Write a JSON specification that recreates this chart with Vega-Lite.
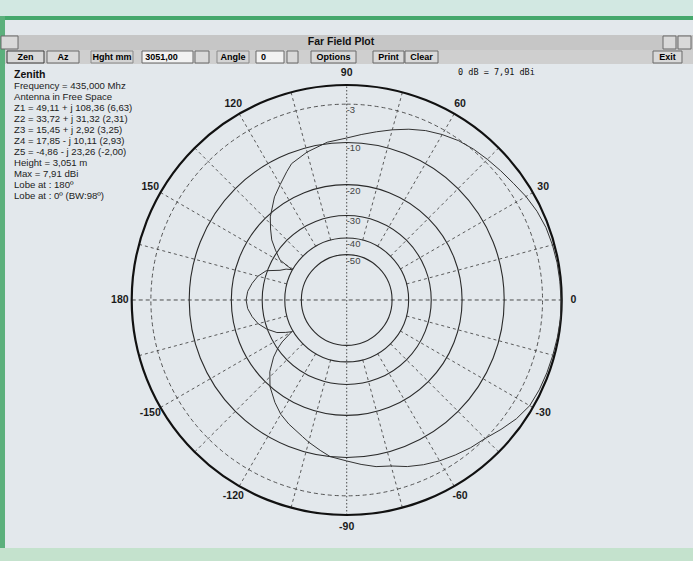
{
  "$schema": "https://vega.github.io/schema/vega-lite/v6.json",
  "width": 693,
  "height": 561,
  "padding": 0,
  "autosize": {"type": "none"},
  "background": "#e3e8ec",
  "config": {
    "view": {"stroke": null},
    "style": {
      "tb": {"font": "Liberation Sans", "fontSize": 9, "fontWeight": "bold", "fill": "#111", "align": "center", "baseline": "middle"}
    }
  },
  "datasets": {
    "pattern": [
      {"az": -180, "db": -24.4}, {"az": -175, "db": -24.8}, {"az": -170, "db": -25.9}, {"az": -165, "db": -27.4},
      {"az": -160, "db": -29.8}, {"az": -155, "db": -33.0}, {"az": -152, "db": -36.5}, {"az": -150, "db": -39.2},
      {"az": -147, "db": -33.0}, {"az": -145, "db": -30.2}, {"az": -142, "db": -27.0}, {"az": -137, "db": -23.0},
      {"az": -131.5, "db": -19.9}, {"az": -125, "db": -17.4}, {"az": -120, "db": -15.7}, {"az": -115, "db": -14.5},
      {"az": -108, "db": -13.0}, {"az": -105, "db": -12.2}, {"az": -100, "db": -11.0}, {"az": -96, "db": -10.0},
      {"az": -90, "db": -9.3}, {"az": -85, "db": -8.5}, {"az": -80, "db": -7.7}, {"az": -75, "db": -7.2},
      {"az": -70, "db": -6.2}, {"az": -65, "db": -5.4}, {"az": -60, "db": -4.7}, {"az": -55, "db": -4.1},
      {"az": -50, "db": -3.5}, {"az": -45, "db": -3.0}, {"az": -40, "db": -2.1}, {"az": -35, "db": -1.2},
      {"az": -30, "db": -0.55}, {"az": -25, "db": -0.38}, {"az": -20, "db": -0.3}, {"az": -15, "db": -0.24},
      {"az": -10, "db": -0.15}, {"az": -5, "db": -0.05}, {"az": 0, "db": -0.1}, {"az": 5, "db": -0.15},
      {"az": 10, "db": -0.2}, {"az": 15, "db": -0.3}, {"az": 20, "db": -0.45}, {"az": 25, "db": -0.76},
      {"az": 30, "db": -1.22}, {"az": 35, "db": -1.77}, {"az": 40, "db": -2.16}, {"az": 45, "db": -2.5},
      {"az": 50, "db": -2.8}, {"az": 55, "db": -3.2}, {"az": 60, "db": -3.8}, {"az": 65, "db": -4.5},
      {"az": 70, "db": -5.4}, {"az": 75, "db": -6.4}, {"az": 80, "db": -7.4}, {"az": 85, "db": -8.3},
      {"az": 90, "db": -9.1}, {"az": 97, "db": -9.7}, {"az": 105, "db": -10.9}, {"az": 112, "db": -12.2},
      {"az": 115, "db": -13.4}, {"az": 120, "db": -15.4}, {"az": 125, "db": -17.2}, {"az": 132.6, "db": -20.7},
      {"az": 137, "db": -23.3}, {"az": 141.3, "db": -25.9}, {"az": 145, "db": -29.1}, {"az": 149, "db": -32.6},
      {"az": 151, "db": -39.7}, {"az": 153, "db": -37.0}, {"az": 156, "db": -34.7}, {"az": 160, "db": -29.6},
      {"az": 165, "db": -27.3}, {"az": 170, "db": -25.9}, {"az": 175, "db": -24.8}, {"az": 180, "db": -24.4}
    ],
    "rings": [
      {"db": 0}, {"db": -3}, {"db": -10}, {"db": -20}, {"db": -30}, {"db": -40}, {"db": -50}
    ],
    "spokes": [
      {"az": 15}, {"az": 30}, {"az": 45}, {"az": 60}, {"az": 75}, {"az": 105}, {"az": 120}, {"az": 135},
      {"az": 150}, {"az": 165}, {"az": 195}, {"az": 210}, {"az": 225}, {"az": 240}, {"az": 255}, {"az": 285},
      {"az": 300}, {"az": 315}, {"az": 330}, {"az": 345}
    ],
    "axes": [{"az": 0}, {"az": 90}],
    "angles": [
      {"az": 0}, {"az": 30}, {"az": 60}, {"az": 90}, {"az": 120}, {"az": 150}, {"az": 180},
      {"az": -150}, {"az": -120}, {"az": -90}, {"az": -60}, {"az": -30}
    ],
    "info": [
      {
        "window": "Far Field Plot",
        "mode": "Zenith",
        "body": "Frequency = 435,000 Mhz\nAntenna in Free Space\nZ1 = 49,11 + j 108,36 (6,63)\nZ2 = 33,72 + j 31,32 (2,31)\nZ3 = 15,45 + j 2,92 (3,25)\nZ4 = 17,85 - j 10,11 (2,93)\nZ5 = -4,86 - j 23,26 (-2,00)\nHeight = 3,051 m\nMax = 7,91 dBi\nLobe at : 180º\nLobe at : 0º (BW:98º)",
        "ref": "0 dB = 7,91 dBi"
      }
    ]
  },
  "layer": [
    {
      "data": {"values": [{}]},
      "mark": {"type": "rect", "color": "#d2e8e2"},
      "encoding": {
        "x": {"datum": -1.6126, "type": "quantitative", "scale": {"domain": [-1.6126, 1.6107], "nice": false, "zero": false}, "axis": null},
        "x2": {"datum": 1.6107},
        "y": {"datum": 1.3953, "type": "quantitative", "scale": {"domain": [-1.214, 1.3953], "nice": false, "zero": false}, "axis": null},
        "y2": {"datum": 1.3209}
      }
    },
    {
      "data": {"values": [{}]},
      "mark": {"type": "rect", "color": "#45a86c"},
      "encoding": {
        "x": {"datum": -1.6126, "type": "quantitative", "scale": {"domain": [-1.6126, 1.6107], "nice": false, "zero": false}, "axis": null},
        "x2": {"datum": 1.6107},
        "y": {"datum": 1.3209, "type": "quantitative", "scale": {"domain": [-1.214, 1.3953], "nice": false, "zero": false}, "axis": null},
        "y2": {"datum": 1.3023}
      }
    },
    {
      "data": {"values": [{}]},
      "mark": {"type": "rect", "color": "#c6c6c6"},
      "encoding": {
        "x": {"datum": -1.6126, "type": "quantitative", "scale": {"domain": [-1.6126, 1.6107], "nice": false, "zero": false}, "axis": null},
        "x2": {"datum": 1.6107},
        "y": {"datum": 1.2326, "type": "quantitative", "scale": {"domain": [-1.214, 1.3953], "nice": false, "zero": false}, "axis": null},
        "y2": {"datum": 1.1628}
      }
    },
    {
      "data": {"values": [{}]},
      "mark": {"type": "rect", "color": "#cfcfcf"},
      "encoding": {
        "x": {"datum": -1.6126, "type": "quantitative", "scale": {"domain": [-1.6126, 1.6107], "nice": false, "zero": false}, "axis": null},
        "x2": {"datum": 1.6107},
        "y": {"datum": 1.1628, "type": "quantitative", "scale": {"domain": [-1.214, 1.3953], "nice": false, "zero": false}, "axis": null},
        "y2": {"datum": 1.0977}
      }
    },
    {
      "data": {"values": [{}]},
      "mark": {"type": "rect", "color": "#5cb07c"},
      "encoding": {
        "x": {"datum": -1.6126, "type": "quantitative", "scale": {"domain": [-1.6126, 1.6107], "nice": false, "zero": false}, "axis": null},
        "x2": {"datum": -1.5893},
        "y": {"datum": 1.3209, "type": "quantitative", "scale": {"domain": [-1.214, 1.3953], "nice": false, "zero": false}, "axis": null},
        "y2": {"datum": -1.214}
      }
    },
    {
      "data": {"values": [{}]},
      "mark": {"type": "rect", "color": "#c4e2cd"},
      "encoding": {
        "x": {"datum": -1.6126, "type": "quantitative", "scale": {"domain": [-1.6126, 1.6107], "nice": false, "zero": false}, "axis": null},
        "x2": {"datum": 1.6107},
        "y": {"datum": -1.1535, "type": "quantitative", "scale": {"domain": [-1.214, 1.3953], "nice": false, "zero": false}, "axis": null},
        "y2": {"datum": -1.214}
      }
    },
    {
      "data": {"values": [{}]},
      "layer": [
        {
          "mark": {"type": "rect", "fill": "#d9d9d9", "stroke": "#3c3c3c", "strokeWidth": 1},
          "encoding": {
            "x": {"datum": -1.58, "type": "quantitative", "scale": {"domain": [-1.6126, 1.6107], "nice": false, "zero": false}, "axis": null},
            "x2": {"datum": -1.4079},
            "y": {"datum": 1.1581, "type": "quantitative", "scale": {"domain": [-1.214, 1.3953], "nice": false, "zero": false}, "axis": null},
            "y2": {"datum": 1.1023}
          }
        },
        {
          "mark": {"type": "rect", "fill": "#d9d9d9", "stroke": "#6a6a6a", "strokeWidth": 1},
          "encoding": {
            "x": {"datum": -1.394, "type": "quantitative", "scale": {"domain": [-1.6126, 1.6107], "nice": false, "zero": false}, "axis": null},
            "x2": {"datum": -1.2451},
            "y": {"datum": 1.1581, "type": "quantitative", "scale": {"domain": [-1.214, 1.3953], "nice": false, "zero": false}, "axis": null},
            "y2": {"datum": 1.1023}
          }
        },
        {
          "mark": {"type": "rect", "fill": "#d4d4d4", "stroke": "#8a8a8a", "strokeWidth": 1},
          "encoding": {
            "x": {"datum": -1.1893, "type": "quantitative", "scale": {"domain": [-1.6126, 1.6107], "nice": false, "zero": false}, "axis": null},
            "x2": {"datum": -0.994},
            "y": {"datum": 1.1581, "type": "quantitative", "scale": {"domain": [-1.214, 1.3953], "nice": false, "zero": false}, "axis": null},
            "y2": {"datum": 1.1023}
          }
        },
        {
          "mark": {"type": "rect", "fill": "#f2f2f2", "stroke": "#6a6a6a", "strokeWidth": 1},
          "encoding": {
            "x": {"datum": -0.9521, "type": "quantitative", "scale": {"domain": [-1.6126, 1.6107], "nice": false, "zero": false}, "axis": null},
            "x2": {"datum": -0.7149},
            "y": {"datum": 1.1581, "type": "quantitative", "scale": {"domain": [-1.214, 1.3953], "nice": false, "zero": false}, "axis": null},
            "y2": {"datum": 1.1023}
          }
        },
        {
          "mark": {"type": "rect", "fill": "#d9d9d9", "stroke": "#6a6a6a", "strokeWidth": 1},
          "encoding": {
            "x": {"datum": -0.7056, "type": "quantitative", "scale": {"domain": [-1.6126, 1.6107], "nice": false, "zero": false}, "axis": null},
            "x2": {"datum": -0.6405},
            "y": {"datum": 1.1581, "type": "quantitative", "scale": {"domain": [-1.214, 1.3953], "nice": false, "zero": false}, "axis": null},
            "y2": {"datum": 1.1023}
          }
        },
        {
          "mark": {"type": "rect", "fill": "#d4d4d4", "stroke": "#8a8a8a", "strokeWidth": 1},
          "encoding": {
            "x": {"datum": -0.6033, "type": "quantitative", "scale": {"domain": [-1.6126, 1.6107], "nice": false, "zero": false}, "axis": null},
            "x2": {"datum": -0.4544},
            "y": {"datum": 1.1581, "type": "quantitative", "scale": {"domain": [-1.214, 1.3953], "nice": false, "zero": false}, "axis": null},
            "y2": {"datum": 1.1023}
          }
        },
        {
          "mark": {"type": "rect", "fill": "#f2f2f2", "stroke": "#6a6a6a", "strokeWidth": 1},
          "encoding": {
            "x": {"datum": -0.4219, "type": "quantitative", "scale": {"domain": [-1.6126, 1.6107], "nice": false, "zero": false}, "axis": null},
            "x2": {"datum": -0.2916},
            "y": {"datum": 1.1581, "type": "quantitative", "scale": {"domain": [-1.214, 1.3953], "nice": false, "zero": false}, "axis": null},
            "y2": {"datum": 1.1023}
          }
        },
        {
          "mark": {"type": "rect", "fill": "#d9d9d9", "stroke": "#6a6a6a", "strokeWidth": 1},
          "encoding": {
            "x": {"datum": -0.2777, "type": "quantitative", "scale": {"domain": [-1.6126, 1.6107], "nice": false, "zero": false}, "axis": null},
            "x2": {"datum": -0.2265},
            "y": {"datum": 1.1581, "type": "quantitative", "scale": {"domain": [-1.214, 1.3953], "nice": false, "zero": false}, "axis": null},
            "y2": {"datum": 1.1023}
          }
        },
        {
          "mark": {"type": "rect", "fill": "#d9d9d9", "stroke": "#6a6a6a", "strokeWidth": 1},
          "encoding": {
            "x": {"datum": -0.166, "type": "quantitative", "scale": {"domain": [-1.6126, 1.6107], "nice": false, "zero": false}, "axis": null},
            "x2": {"datum": 0.0433},
            "y": {"datum": 1.1581, "type": "quantitative", "scale": {"domain": [-1.214, 1.3953], "nice": false, "zero": false}, "axis": null},
            "y2": {"datum": 1.1023}
          }
        },
        {
          "mark": {"type": "rect", "fill": "#d9d9d9", "stroke": "#6a6a6a", "strokeWidth": 1},
          "encoding": {
            "x": {"datum": 0.1223, "type": "quantitative", "scale": {"domain": [-1.6126, 1.6107], "nice": false, "zero": false}, "axis": null},
            "x2": {"datum": 0.2665},
            "y": {"datum": 1.1581, "type": "quantitative", "scale": {"domain": [-1.214, 1.3953], "nice": false, "zero": false}, "axis": null},
            "y2": {"datum": 1.1023}
          }
        },
        {
          "mark": {"type": "rect", "fill": "#d9d9d9", "stroke": "#6a6a6a", "strokeWidth": 1},
          "encoding": {
            "x": {"datum": 0.2712, "type": "quantitative", "scale": {"domain": [-1.6126, 1.6107], "nice": false, "zero": false}, "axis": null},
            "x2": {"datum": 0.4247},
            "y": {"datum": 1.1581, "type": "quantitative", "scale": {"domain": [-1.214, 1.3953], "nice": false, "zero": false}, "axis": null},
            "y2": {"datum": 1.1023}
          }
        },
        {
          "mark": {"type": "rect", "fill": "#d9d9d9", "stroke": "#6a6a6a", "strokeWidth": 1},
          "encoding": {
            "x": {"datum": 1.4247, "type": "quantitative", "scale": {"domain": [-1.6126, 1.6107], "nice": false, "zero": false}, "axis": null},
            "x2": {"datum": 1.5595},
            "y": {"datum": 1.1581, "type": "quantitative", "scale": {"domain": [-1.214, 1.3953], "nice": false, "zero": false}, "axis": null},
            "y2": {"datum": 1.1023}
          }
        },
        {
          "mark": {"type": "rect", "fill": "#d9d9d9", "stroke": "#6a6a6a", "strokeWidth": 1},
          "encoding": {
            "x": {"datum": -1.6079, "type": "quantitative", "scale": {"domain": [-1.6126, 1.6107], "nice": false, "zero": false}, "axis": null},
            "x2": {"datum": -1.5288},
            "y": {"datum": 1.2279, "type": "quantitative", "scale": {"domain": [-1.214, 1.3953], "nice": false, "zero": false}, "axis": null},
            "y2": {"datum": 1.1674}
          }
        },
        {
          "mark": {"type": "rect", "fill": "#d9d9d9", "stroke": "#6a6a6a", "strokeWidth": 1},
          "encoding": {
            "x": {"datum": 1.4712, "type": "quantitative", "scale": {"domain": [-1.6126, 1.6107], "nice": false, "zero": false}, "axis": null},
            "x2": {"datum": 1.5316},
            "y": {"datum": 1.2279, "type": "quantitative", "scale": {"domain": [-1.214, 1.3953], "nice": false, "zero": false}, "axis": null},
            "y2": {"datum": 1.1674}
          }
        },
        {
          "mark": {"type": "rect", "fill": "#d9d9d9", "stroke": "#6a6a6a", "strokeWidth": 1},
          "encoding": {
            "x": {"datum": 1.5409, "type": "quantitative", "scale": {"domain": [-1.6126, 1.6107], "nice": false, "zero": false}, "axis": null},
            "x2": {"datum": 1.6014},
            "y": {"datum": 1.2279, "type": "quantitative", "scale": {"domain": [-1.214, 1.3953], "nice": false, "zero": false}, "axis": null},
            "y2": {"datum": 1.1674}
          }
        },
        {"mark": {"type": "text", "style": "tb"}, "encoding": {
          "x": {"datum": -1.494, "type": "quantitative", "scale": {"domain": [-1.6126, 1.6107], "nice": false, "zero": false}, "axis": null},
          "y": {"datum": 1.1302, "type": "quantitative", "scale": {"domain": [-1.214, 1.3953], "nice": false, "zero": false}, "axis": null},
          "text": {"value": "Zen"}}},
        {"mark": {"type": "text", "style": "tb"}, "encoding": {
          "x": {"datum": -1.3195, "type": "quantitative", "scale": {"domain": [-1.6126, 1.6107], "nice": false, "zero": false}, "axis": null},
          "y": {"datum": 1.1302, "type": "quantitative", "scale": {"domain": [-1.214, 1.3953], "nice": false, "zero": false}, "axis": null},
          "text": {"value": "Az"}}},
        {"mark": {"type": "text", "style": "tb"}, "encoding": {
          "x": {"datum": -1.0916, "type": "quantitative", "scale": {"domain": [-1.6126, 1.6107], "nice": false, "zero": false}, "axis": null},
          "y": {"datum": 1.1302, "type": "quantitative", "scale": {"domain": [-1.214, 1.3953], "nice": false, "zero": false}, "axis": null},
          "text": {"value": "Hght mm"}}},
        {"mark": {"type": "text", "style": "tb"}, "encoding": {
          "x": {"datum": -0.8614, "type": "quantitative", "scale": {"domain": [-1.6126, 1.6107], "nice": false, "zero": false}, "axis": null},
          "y": {"datum": 1.1302, "type": "quantitative", "scale": {"domain": [-1.214, 1.3953], "nice": false, "zero": false}, "axis": null},
          "text": {"value": "3051,00"}}},
        {"mark": {"type": "text", "style": "tb"}, "encoding": {
          "x": {"datum": -0.5288, "type": "quantitative", "scale": {"domain": [-1.6126, 1.6107], "nice": false, "zero": false}, "axis": null},
          "y": {"datum": 1.1302, "type": "quantitative", "scale": {"domain": [-1.214, 1.3953], "nice": false, "zero": false}, "axis": null},
          "text": {"value": "Angle"}}},
        {"mark": {"type": "text", "style": "tb"}, "encoding": {
          "x": {"datum": -0.3865, "type": "quantitative", "scale": {"domain": [-1.6126, 1.6107], "nice": false, "zero": false}, "axis": null},
          "y": {"datum": 1.1302, "type": "quantitative", "scale": {"domain": [-1.214, 1.3953], "nice": false, "zero": false}, "axis": null},
          "text": {"value": "0"}}},
        {"mark": {"type": "text", "style": "tb"}, "encoding": {
          "x": {"datum": -0.0614, "type": "quantitative", "scale": {"domain": [-1.6126, 1.6107], "nice": false, "zero": false}, "axis": null},
          "y": {"datum": 1.1302, "type": "quantitative", "scale": {"domain": [-1.214, 1.3953], "nice": false, "zero": false}, "axis": null},
          "text": {"value": "Options"}}},
        {"mark": {"type": "text", "style": "tb"}, "encoding": {
          "x": {"datum": 0.1944, "type": "quantitative", "scale": {"domain": [-1.6126, 1.6107], "nice": false, "zero": false}, "axis": null},
          "y": {"datum": 1.1302, "type": "quantitative", "scale": {"domain": [-1.214, 1.3953], "nice": false, "zero": false}, "axis": null},
          "text": {"value": "Print"}}},
        {"mark": {"type": "text", "style": "tb"}, "encoding": {
          "x": {"datum": 0.3479, "type": "quantitative", "scale": {"domain": [-1.6126, 1.6107], "nice": false, "zero": false}, "axis": null},
          "y": {"datum": 1.1302, "type": "quantitative", "scale": {"domain": [-1.214, 1.3953], "nice": false, "zero": false}, "axis": null},
          "text": {"value": "Clear"}}},
        {"mark": {"type": "text", "style": "tb"}, "encoding": {
          "x": {"datum": 1.4921, "type": "quantitative", "scale": {"domain": [-1.6126, 1.6107], "nice": false, "zero": false}, "axis": null},
          "y": {"datum": 1.1302, "type": "quantitative", "scale": {"domain": [-1.214, 1.3953], "nice": false, "zero": false}, "axis": null},
          "text": {"value": "Exit"}}}
      ]
    },
    {
      "data": {"name": "info"},
      "mark": {"type": "text", "font": "Liberation Sans", "fontSize": 10.5, "fontWeight": "bold", "color": "#111", "align": "center", "baseline": "middle"},
      "encoding": {
        "x": {"datum": -0.0265, "type": "quantitative", "scale": {"domain": [-1.6126, 1.6107], "nice": false, "zero": false}, "axis": null},
        "y": {"datum": 1.2, "type": "quantitative", "scale": {"domain": [-1.214, 1.3953], "nice": false, "zero": false}, "axis": null},
        "text": {"field": "window"}
      }
    },
    {
      "data": {"name": "spokes"},
      "transform": [
        {"calculate": "pow(10, -40/74)", "as": "r0"},
        {"calculate": "datum.r0*cos(datum.az*PI/180)", "as": "x0"},
        {"calculate": "datum.r0*sin(datum.az*PI/180)", "as": "y0"},
        {"calculate": "cos(datum.az*PI/180)", "as": "x1"},
        {"calculate": "sin(datum.az*PI/180)", "as": "y1"}
      ],
      "mark": {"type": "rule", "color": "#4a4a4a", "strokeWidth": 0.9, "strokeDash": [3, 3]},
      "encoding": {
        "x": {"field": "x0", "type": "quantitative", "scale": {"domain": [-1.6126, 1.6107], "nice": false, "zero": false}, "axis": null},
        "y": {"field": "y0", "type": "quantitative", "scale": {"domain": [-1.214, 1.3953], "nice": false, "zero": false}, "axis": null},
        "x2": {"field": "x1"},
        "y2": {"field": "y1"}
      }
    },
    {
      "data": {"name": "axes"},
      "transform": [
        {"filter": "datum.az == 0"},
        {"calculate": "-cos(datum.az*PI/180)", "as": "x0"},
        {"calculate": "-sin(datum.az*PI/180)", "as": "y0"},
        {"calculate": "cos(datum.az*PI/180)", "as": "x1"},
        {"calculate": "sin(datum.az*PI/180)", "as": "y1"}
      ],
      "mark": {"type": "rule", "color": "#3a3a3a", "strokeWidth": 0.9, "strokeDash": [4, 3]},
      "encoding": {
        "x": {"field": "x0", "type": "quantitative", "scale": {"domain": [-1.6126, 1.6107], "nice": false, "zero": false}, "axis": null},
        "y": {"field": "y0", "type": "quantitative", "scale": {"domain": [-1.214, 1.3953], "nice": false, "zero": false}, "axis": null},
        "x2": {"field": "x1"},
        "y2": {"field": "y1"}
      }
    },
    {
      "data": {"name": "axes"},
      "transform": [
        {"filter": "datum.az == 90"},
        {"calculate": "-cos(datum.az*PI/180)", "as": "x0"},
        {"calculate": "-sin(datum.az*PI/180)", "as": "y0"},
        {"calculate": "cos(datum.az*PI/180)", "as": "x1"},
        {"calculate": "sin(datum.az*PI/180)", "as": "y1"}
      ],
      "mark": {"type": "rule", "color": "#3a3a3a", "strokeWidth": 0.9, "strokeDash": [1.5, 2]},
      "encoding": {
        "x": {"field": "x0", "type": "quantitative", "scale": {"domain": [-1.6126, 1.6107], "nice": false, "zero": false}, "axis": null},
        "y": {"field": "y0", "type": "quantitative", "scale": {"domain": [-1.214, 1.3953], "nice": false, "zero": false}, "axis": null},
        "x2": {"field": "x1"},
        "y2": {"field": "y1"}
      }
    },
    {
      "data": {"name": "rings"},
      "transform": [{"filter": "datum.db <= -10"}, {"calculate": "pow(10, datum.db/74)", "as": "rr"}],
      "mark": {"type": "arc", "filled": false, "stroke": "#2a2a2a", "strokeWidth": 1.1, "theta": 0, "theta2": 6.2832},
      "encoding": {
        "x": {"datum": 0, "type": "quantitative", "scale": {"domain": [-1.6126, 1.6107], "nice": false, "zero": false}, "axis": null},
        "y": {"datum": 0, "type": "quantitative", "scale": {"domain": [-1.214, 1.3953], "nice": false, "zero": false}, "axis": null},
        "radius": {"field": "rr", "type": "quantitative", "stack": null, "scale": {"type": "linear", "domain": [0, 1], "range": [0, 215], "zero": true}}
      }
    },
    {
      "data": {"name": "rings"},
      "transform": [{"filter": "datum.db == -3"}, {"calculate": "pow(10, datum.db/74)", "as": "rr"}],
      "mark": {"type": "arc", "filled": false, "stroke": "#444", "strokeWidth": 0.9, "strokeDash": [4, 3], "theta": 0, "theta2": 6.2832},
      "encoding": {
        "x": {"datum": 0, "type": "quantitative", "scale": {"domain": [-1.6126, 1.6107], "nice": false, "zero": false}, "axis": null},
        "y": {"datum": 0, "type": "quantitative", "scale": {"domain": [-1.214, 1.3953], "nice": false, "zero": false}, "axis": null},
        "radius": {"field": "rr", "type": "quantitative", "stack": null, "scale": {"type": "linear", "domain": [0, 1], "range": [0, 215], "zero": true}}
      }
    },
    {
      "data": {"name": "rings"},
      "transform": [{"filter": "datum.db == 0"}, {"calculate": "pow(10, datum.db/74)", "as": "rr"}],
      "mark": {"type": "arc", "filled": false, "stroke": "#111", "strokeWidth": 2.2, "theta": 0, "theta2": 6.2832},
      "encoding": {
        "x": {"datum": 0, "type": "quantitative", "scale": {"domain": [-1.6126, 1.6107], "nice": false, "zero": false}, "axis": null},
        "y": {"datum": 0, "type": "quantitative", "scale": {"domain": [-1.214, 1.3953], "nice": false, "zero": false}, "axis": null},
        "radius": {"field": "rr", "type": "quantitative", "stack": null, "scale": {"type": "linear", "domain": [0, 1], "range": [0, 215], "zero": true}}
      }
    },
    {
      "data": {"name": "pattern"},
      "transform": [
        {"calculate": "pow(10, datum.db/74)", "as": "rr"},
        {"calculate": "datum.rr*cos(datum.az*PI/180)", "as": "px"},
        {"calculate": "datum.rr*sin(datum.az*PI/180)", "as": "py"}
      ],
      "mark": {"type": "line", "color": "#333", "strokeWidth": 1, "interpolate": "linear"},
      "encoding": {
        "x": {"field": "px", "type": "quantitative", "scale": {"domain": [-1.6126, 1.6107], "nice": false, "zero": false}, "axis": null},
        "y": {"field": "py", "type": "quantitative", "scale": {"domain": [-1.214, 1.3953], "nice": false, "zero": false}, "axis": null},
        "order": {"field": "az", "type": "quantitative"}
      }
    },
    {
      "data": {"name": "rings"},
      "transform": [
        {"filter": "datum.db < 0"},
        {"calculate": "pow(10, datum.db/74)", "as": "rr"},
        {"calculate": "toString(datum.db)", "as": "label"}
      ],
      "mark": {"type": "text", "font": "Liberation Sans", "fontSize": 9.5, "color": "#444", "align": "left", "baseline": "top", "dy": 1},
      "encoding": {
        "x": {"datum": 0, "type": "quantitative", "scale": {"domain": [-1.6126, 1.6107], "nice": false, "zero": false}, "axis": null},
        "y": {"field": "rr", "type": "quantitative", "scale": {"domain": [-1.214, 1.3953], "nice": false, "zero": false}, "axis": null},
        "text": {"field": "label"}
      }
    },
    {
      "data": {"name": "angles"},
      "transform": [
        {"calculate": "1.055*cos(datum.az*PI/180)", "as": "px"},
        {"calculate": "1.055*sin(datum.az*PI/180)", "as": "py"},
        {"calculate": "toString(datum.az)", "as": "label"}
      ],
      "mark": {"type": "text", "font": "Liberation Sans", "fontSize": 10.5, "fontWeight": "bold", "color": "#1a1a1a", "align": "center", "baseline": "middle"},
      "encoding": {
        "x": {"field": "px", "type": "quantitative", "scale": {"domain": [-1.6126, 1.6107], "nice": false, "zero": false}, "axis": null},
        "y": {"field": "py", "type": "quantitative", "scale": {"domain": [-1.214, 1.3953], "nice": false, "zero": false}, "axis": null},
        "text": {"field": "label"}
      }
    },
    {
      "data": {"name": "info"},
      "mark": {"type": "text", "font": "Liberation Sans", "fontSize": 10.5, "fontWeight": "bold", "color": "#111", "align": "left", "baseline": "middle"},
      "encoding": {
        "x": {"datum": -1.5474, "type": "quantitative", "scale": {"domain": [-1.6126, 1.6107], "nice": false, "zero": false}, "axis": null},
        "y": {"datum": 1.0465, "type": "quantitative", "scale": {"domain": [-1.214, 1.3953], "nice": false, "zero": false}, "axis": null},
        "text": {"field": "mode"}
      }
    },
    {
      "data": {"name": "info"},
      "mark": {"type": "text", "font": "Liberation Sans", "fontSize": 9.6, "color": "#222", "align": "left", "baseline": "top", "lineBreak": "\n", "lineHeight": 11},
      "encoding": {
        "x": {"datum": -1.5474, "type": "quantitative", "scale": {"domain": [-1.6126, 1.6107], "nice": false, "zero": false}, "axis": null},
        "y": {"datum": 1.02, "type": "quantitative", "scale": {"domain": [-1.214, 1.3953], "nice": false, "zero": false}, "axis": null},
        "text": {"field": "body"}
      }
    },
    {
      "data": {"name": "info"},
      "mark": {"type": "text", "font": "DejaVu Sans Mono", "fontSize": 8.5, "color": "#111", "align": "left", "baseline": "middle"},
      "encoding": {
        "x": {"datum": 0.5181, "type": "quantitative", "scale": {"domain": [-1.6126, 1.6107], "nice": false, "zero": false}, "axis": null},
        "y": {"datum": 1.0605, "type": "quantitative", "scale": {"domain": [-1.214, 1.3953], "nice": false, "zero": false}, "axis": null},
        "text": {"field": "ref"}
      }
    }
  ]
}
